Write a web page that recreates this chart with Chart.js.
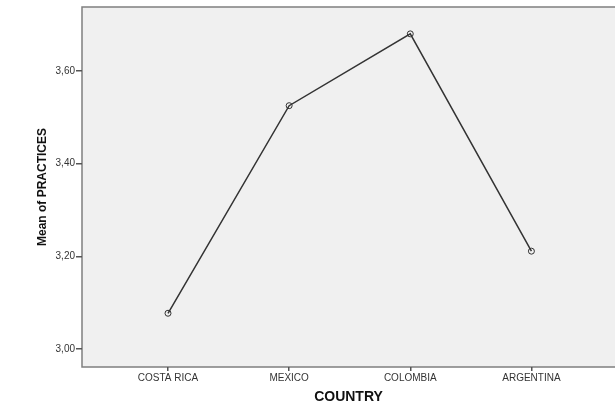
<!DOCTYPE html>
<html>
<head>
<meta charset="utf-8">
<script src="https://cdn.jsdelivr.net/npm/chart.js@4/dist/chart.umd.min.js"></script>
<style>
  html, body { margin: 0; padding: 0; background: #fff; }
  #wrap { width: 615px; height: 406px; }
</style>
</head>
<body>
<div id="wrap"><canvas id="chart" width="615" height="406"></canvas></div>
<script>
// data
const countries = ['COSTA RICA', 'MEXICO', 'COLOMBIA', 'ARGENTINA'];
const practiceMeans = [3.077, 3.525, 3.680, 3.211];
const yTicks = [3.00, 3.20, 3.40, 3.60];

// fill plot area grey and draw its frame (top, left, bottom)
const plotFrame = {
  id: 'plotFrame',
  beforeDraw(chart) {
    const { ctx, chartArea: a } = chart;
    ctx.save();
    ctx.fillStyle = '#f0f0f0';
    ctx.fillRect(a.left, a.top, a.right - a.left, a.bottom - a.top);
    ctx.strokeStyle = '#7f7f7f';
    ctx.lineWidth = 1.5;
    ctx.beginPath();
    ctx.moveTo(a.right, a.top);
    ctx.lineTo(a.left, a.top);
    ctx.lineTo(a.left, a.bottom);
    ctx.lineTo(a.right, a.bottom);
    ctx.stroke();
    ctx.restore();
  }
};

const fmtComma = v => v.toFixed(2).replace('.', ',');

new Chart(document.getElementById('chart'), {
  type: 'line',
  data: {
    datasets: [{
      data: practiceMeans.map((v, i) => ({ x: i, y: v })),
      borderColor: '#333',
      borderWidth: 1.5,
      pointRadius: 3,
      pointBorderWidth: 1,
      pointBorderColor: '#333',
      pointBackgroundColor: 'rgba(0,0,0,0)',
      tension: 0
    }]
  },
  plugins: [plotFrame],
  options: {
    responsive: false,
    animation: false,
    layout: { autoPadding: false, padding: { top: 6, right: 0, left: 0, bottom: 0 } },
    plugins: { legend: { display: false }, tooltip: { enabled: false } },
    scales: {
      x: {
        type: 'linear',
        min: -0.71,
        max: 3.69,
        afterBuildTicks: s => { s.ticks = countries.map((c, i) => ({ value: i })); },
        afterFit: s => { s.height = 39; },
        border: { display: false },
        grid: { drawOnChartArea: false, drawTicks: true, tickLength: 4, color: '#555', lineWidth: 1.5 },
        ticks: {
          callback: v => countries[v],
          color: '#333',
          font: { family: 'Liberation Sans, Arial', size: 10 },
          padding: 1,
          maxRotation: 0
        },
        title: {
          display: true,
          text: 'COUNTRY',
          color: '#111',
          font: { family: 'Liberation Sans, Arial', size: 14, weight: 'bold' },
          padding: { top: 6, bottom: 0 }
        }
      },
      y: {
        min: 2.961,
        max: 3.738,
        afterBuildTicks: s => { s.ticks = yTicks.map(v => ({ value: v })); },
        afterFit: s => { s.width = 82; },
        border: { display: false },
        grid: { drawOnChartArea: false, drawTicks: true, tickLength: 6, color: '#555', lineWidth: 1.5 },
        ticks: {
          callback: v => fmtComma(v),
          color: '#333',
          font: { family: 'Liberation Sans, Arial', size: 10 },
          padding: 1
        },
        title: {
          display: true,
          text: 'Mean of PRACTICES',
          color: '#111',
          font: { family: 'Liberation Sans, Arial', size: 12, weight: 'bold' },
          padding: { top: 35, bottom: 0 }
        }
      }
    }
  }
});
</script>
</body>
</html>
